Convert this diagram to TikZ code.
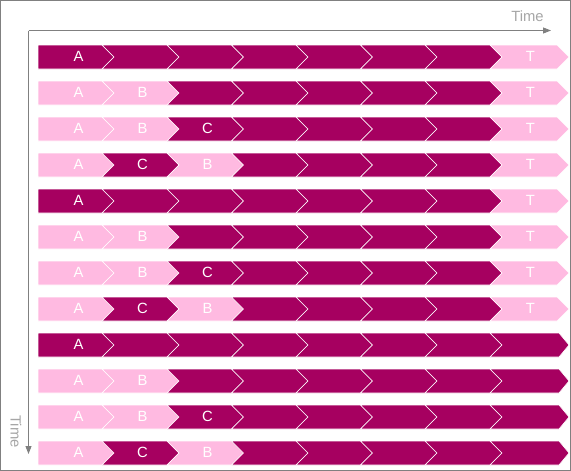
\documentclass[tikz,border=0pt]{standalone}
\usepackage{fontspec}
\setmainfont{Liberation Sans}
\usetikzlibrary{arrows.meta}
\definecolor{dk}{RGB}{166,0,96}
\definecolor{pk}{RGB}{255,186,225}
\definecolor{axisgray}{RGB}{128,128,128}
\definecolor{txtgray}{RGB}{166,166,166}
\tikzset{
  segline/.style={draw=white,line width=0.6pt,line join=miter},
  lbl/.style={text=white,font=\fontsize{14.8}{17}\selectfont,inner sep=0pt},
  timelbl/.style={text=txtgray,font=\fontsize{14.8}{17}\selectfont,inner sep=0pt},
  axisline/.style={draw=axisgray,line width=1pt,-{Triangle[length=8pt,width=6pt]}},
  frame/.style={draw=axisgray,line width=1pt}
}
% #1 name, #2 top y, #3 left x, #4 right x, #5 tip depth, #6 fill, #7 label
\newcommand\mkseg[7]{%
  \ifdim #3pt<40pt
    \draw[segline,fill=#6] (#3,#2) -- (#4,#2) -- (#4+#5,#2+12) -- (#4,#2+24) -- (#3,#2+24) -- cycle;
  \else
    \draw[segline,fill=#6] (#3,#2) -- (#4,#2) -- (#4+#5,#2+12) -- (#4,#2+24) -- (#3,#2+24) -- (#3+12,#2+12) -- cycle;
  \fi
  \if\relax\detokenize{#7}\relax\else
    \node[lbl] (#1) at (#3+40.5,#2+11) {#7};
  \fi
}
% row: #1 row index, #2 top y, #3..#5 fills of first 3 segs, #6..#8 labels, #9 last type (T or D)
\newcommand\mkrow[9]{%
  \mkseg{r#1a}{#2}{38}{102}{12}{#3}{#6}
  \mkseg{r#1b}{#2}{102}{167}{12}{#4}{#7}
  \mkseg{r#1c}{#2}{167}{231.5}{12}{#5}{#8}
  \mkseg{r#1d}{#2}{231.5}{296}{12}{dk}{}
  \mkseg{r#1e}{#2}{296}{360.5}{12}{dk}{}
  \mkseg{r#1f}{#2}{360.5}{425}{12}{dk}{}
  \mkseg{r#1g}{#2}{425}{490}{12}{dk}{}
  \if #9T
    \mkseg{r#1t}{#2}{490}{557}{12}{pk}{T}
  \else
    \mkseg{r#1t}{#2}{490}{559}{10}{dk}{}
  \fi
}
\begin{document}
\begin{tikzpicture}[x=1pt,y=-1pt]
\useasboundingbox (0,0) rectangle (571,471);
\draw[frame] (0.5,0.5) rectangle (570.5,470.5);
% axes
\coordinate (o) at (28.5,30.5);
\coordinate (xe) at (551,30.5);
\coordinate (ye) at (28.5,454);
\draw[axisline] (o) -- (xe);
\draw[axisline] (o) -- (ye);
\node[timelbl] (tx) at (527.5,16) {Time};
\node[timelbl,rotate=-90] (ty) at (16,431.5) {Time};
% rows
\mkrow{1}{45}{dk}{dk}{dk}{A}{}{}{T}
\mkrow{2}{81}{pk}{pk}{dk}{A}{B}{}{T}
\mkrow{3}{117}{pk}{pk}{dk}{A}{B}{C}{T}
\mkrow{4}{153}{pk}{dk}{pk}{A}{C}{B}{T}
\mkrow{5}{189}{dk}{dk}{dk}{A}{}{}{T}
\mkrow{6}{225}{pk}{pk}{dk}{A}{B}{}{T}
\mkrow{7}{261}{pk}{pk}{dk}{A}{B}{C}{T}
\mkrow{8}{297}{pk}{dk}{pk}{A}{C}{B}{T}
\mkrow{9}{333}{dk}{dk}{dk}{A}{}{}{D}
\mkrow{10}{369}{pk}{pk}{dk}{A}{B}{}{D}
\mkrow{11}{405}{pk}{pk}{dk}{A}{B}{C}{D}
\mkrow{12}{441}{pk}{dk}{pk}{A}{C}{B}{D}
\end{tikzpicture}
\end{document}
